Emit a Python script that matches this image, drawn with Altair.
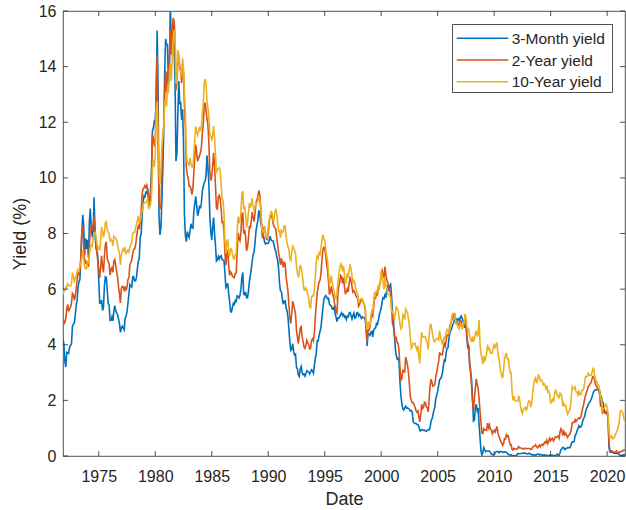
import altair as alt
import pandas as pd

# ---------------- data (monthly, Nov 1971 .. Aug 2021) ----------------
START_YEAR, START_MONTH = 1971, 11

yield_3m = [
    4.22, 4.01,
    3.38, 3.20, 3.73, 3.71, 3.69, 3.91, 3.98, 4.02, 4.66, 4.74, 4.78, 5.07,
    5.41, 5.60, 6.09, 6.26, 6.36, 7.19, 8.01, 8.67, 8.29, 7.22, 7.83, 7.45,
    7.77, 7.12, 8.40, 8.90, 8.23, 7.90, 7.85, 9.30, 8.06, 7.46, 7.47, 7.15,
    6.26, 5.50, 5.49, 5.61, 5.23, 5.34, 6.13, 6.44, 6.42, 5.96, 5.48, 5.44,
    4.87, 4.88, 5.00, 4.86, 5.20, 5.41, 5.23, 5.14, 5.08, 4.92, 4.75, 4.45,
    4.62, 4.67, 4.60, 4.54, 4.96, 5.02, 5.19, 5.49, 5.81, 6.16, 6.10, 6.07,
    6.44, 6.45, 6.29, 6.29, 6.41, 6.73, 7.01, 7.08, 7.85, 7.99, 8.64, 9.08,
    9.35, 9.32, 9.48, 9.46, 9.61, 9.06, 9.24, 9.52, 10.26, 11.70, 11.79, 12.04,
    12.00, 12.86, 15.30, 13.20, 8.60, 7.95, 8.20, 9.13, 10.27, 11.62, 13.73, 15.00,
    14.80, 14.79, 13.36, 13.69, 16.30, 14.73, 14.95, 15.51, 14.70, 13.54, 10.60, 10.85,
    12.28, 13.48, 12.68, 12.70, 12.09, 12.47, 11.35, 8.68, 7.92, 7.71, 8.07, 7.94,
    7.86, 8.11, 8.35, 8.21, 8.19, 8.79, 9.08, 9.34, 9.00, 8.64, 8.76, 9.00,
    8.90, 9.09, 9.52, 9.69, 9.83, 9.87, 10.12, 10.80, 10.37, 9.74, 8.61, 8.06,
    7.76, 8.22, 8.57, 8.00, 7.56, 7.01, 7.05, 7.18, 7.08, 7.17, 7.20, 7.07,
    7.04, 7.03, 6.59, 6.06, 6.12, 6.21, 5.84, 5.57, 5.19, 5.18, 5.35, 5.49,
    5.45, 5.59, 5.56, 5.76, 5.75, 5.69, 5.78, 6.00, 6.40, 6.60, 5.81, 5.80,
    5.90, 5.69, 5.69, 5.92, 6.27, 6.50, 6.73, 7.02, 7.23, 7.34, 7.68, 8.09,
    8.29, 8.48, 8.83, 8.70, 8.40, 8.22, 7.92, 7.91, 7.72, 7.63, 7.65, 7.64,
    7.64, 7.74, 7.90, 7.77, 7.74, 7.73, 7.62, 7.45, 7.36, 7.17, 7.06, 6.74,
    6.22, 5.94, 5.91, 5.65, 5.46, 5.57, 5.58, 5.33, 5.22, 4.99, 4.56, 4.07,
    3.80, 3.84, 4.04, 3.75, 3.63, 3.66, 3.21, 3.13, 2.91, 2.86, 3.13, 3.22,
    3.00, 2.93, 2.95, 2.87, 2.96, 3.07, 3.04, 3.02, 2.95, 3.02, 3.10, 3.06,
    2.98, 3.25, 3.50, 3.68, 4.14, 4.14, 4.33, 4.48, 4.62, 4.95, 5.29, 5.60,
    5.71, 5.77, 5.73, 5.65, 5.67, 5.47, 5.42, 5.40, 5.28, 5.28, 5.36, 5.14,
    5.00, 4.83, 4.96, 4.95, 5.02, 5.09, 5.15, 5.05, 5.09, 4.99, 5.03, 4.91,
    5.03, 5.01, 5.14, 5.16, 5.05, 4.93, 5.05, 5.14, 4.95, 4.97, 5.14, 5.16,
    5.04, 5.09, 5.03, 4.95, 5.00, 4.98, 4.96, 4.90, 4.61, 3.96, 4.41, 4.39,
    4.34, 4.45, 4.48, 4.28, 4.51, 4.59, 4.60, 4.76, 4.73, 4.88, 5.07, 5.20,
    5.32, 5.55, 5.69, 5.66, 5.79, 5.69, 5.96, 6.09, 6.00, 6.11, 6.17, 5.77,
    5.15, 4.88, 4.42, 3.87, 3.62, 3.49, 3.51, 3.36, 2.64, 2.16, 1.87, 1.69,
    1.65, 1.73, 1.79, 1.72, 1.73, 1.70, 1.68, 1.62, 1.63, 1.58, 1.23, 1.19,
    1.17, 1.17, 1.13, 1.13, 1.07, 0.92, 0.90, 0.95, 0.94, 0.92, 0.93, 0.90,
    0.88, 0.93, 0.94, 0.94, 1.02, 1.27, 1.33, 1.48, 1.65, 1.76, 2.07, 2.19,
    2.33, 2.54, 2.74, 2.78, 2.84, 2.97, 3.22, 3.44, 3.42, 3.71, 3.88, 3.89,
    4.24, 4.43, 4.51, 4.60, 4.72, 4.79, 4.95, 4.96, 4.81, 4.92, 4.94, 4.85,
    4.98, 5.03, 4.94, 4.87, 4.73, 4.61, 4.82, 4.20, 3.89, 3.90, 3.27, 3.00,
    2.75, 2.12, 1.26, 1.29, 1.73, 1.86, 1.63, 1.72, 1.13, 0.67, 0.19, 0.03,
    0.13, 0.30, 0.22, 0.16, 0.18, 0.18, 0.18, 0.17, 0.12, 0.07, 0.05, 0.05,
    0.06, 0.11, 0.15, 0.16, 0.16, 0.12, 0.16, 0.16, 0.15, 0.13, 0.14, 0.14,
    0.15, 0.13, 0.10, 0.06, 0.04, 0.04, 0.04, 0.02, 0.01, 0.02, 0.01, 0.01,
    0.03, 0.09, 0.08, 0.08, 0.09, 0.09, 0.10, 0.10, 0.11, 0.10, 0.09, 0.07,
    0.07, 0.10, 0.09, 0.06, 0.04, 0.05, 0.04, 0.04, 0.02, 0.05, 0.07, 0.07,
    0.04, 0.05, 0.05, 0.03, 0.03, 0.04, 0.03, 0.03, 0.02, 0.02, 0.02, 0.03,
    0.03, 0.02, 0.03, 0.02, 0.02, 0.02, 0.03, 0.07, 0.02, 0.02, 0.12, 0.23,
    0.26, 0.31, 0.29, 0.23, 0.27, 0.27, 0.30, 0.30, 0.29, 0.33, 0.45, 0.51,
    0.51, 0.52, 0.74, 0.79, 0.90, 0.99, 1.09, 1.03, 1.05, 1.09, 1.25, 1.34,
    1.41, 1.57, 1.70, 1.76, 1.86, 1.90, 1.96, 2.03, 2.13, 2.25, 2.33, 2.37,
    2.37, 2.39, 2.40, 2.38, 2.35, 2.17, 2.10, 1.95, 1.89, 1.65, 1.54, 1.54,
    1.52, 1.52, 0.29, 0.14, 0.13, 0.16, 0.13, 0.10, 0.11, 0.10, 0.09, 0.09,
    0.08, 0.04, 0.03, 0.02, 0.02, 0.04, 0.05, 0.05,
]

yield_2y = [
    5.00, 4.75,
    4.80, 4.95, 5.30, 5.45, 5.20, 5.30, 5.35, 5.50, 5.85, 5.80, 5.60, 5.75,
    6.00, 6.30, 6.60, 6.50, 6.70, 7.10, 8.10, 8.30, 7.60, 6.90, 7.00, 6.90,
    7.00, 6.80, 7.50, 8.20, 8.20, 8.10, 8.30, 8.60, 8.30, 7.60, 7.30, 7.00,
    6.70, 6.40, 6.80, 7.20, 6.80, 6.60, 7.20, 7.60, 7.70, 7.10, 7.00, 6.90,
    6.50, 6.70, 6.80, 6.60, 7.00, 7.06, 6.85, 6.63, 6.42, 6.07, 5.84, 5.50,
    6.03, 6.10, 6.08, 5.97, 6.10, 5.95, 6.07, 6.34, 6.42, 6.88, 6.95, 7.04,
    7.27, 7.43, 7.44, 7.55, 7.82, 8.10, 8.26, 8.16, 8.43, 8.81, 9.40, 9.60,
    9.64, 9.72, 9.65, 9.74, 9.59, 8.99, 9.03, 9.22, 9.94, 11.50, 11.46, 11.17,
    11.12, 13.38, 14.40, 11.42, 9.07, 8.95, 8.88, 10.21, 11.37, 11.90, 13.00, 13.85,
    13.07, 13.81, 13.71, 14.25, 15.35, 14.43, 15.18, 15.75, 15.65, 15.10, 13.14, 13.53,
    14.10, 14.40, 14.00, 13.90, 13.40, 14.10, 13.80, 12.60, 11.80, 10.40, 10.10, 10.00,
    9.70, 9.70, 9.60, 9.40, 9.60, 10.20, 10.80, 11.20, 10.90, 10.60, 10.70, 10.80,
    10.90, 11.10, 11.60, 11.90, 12.60, 12.70, 12.40, 12.10, 11.90, 11.20, 10.20, 9.90,
    10.05, 10.45, 10.90, 10.40, 9.70, 8.91, 8.88, 9.31, 9.37, 9.25, 8.88, 8.40,
    8.41, 8.10, 7.30, 6.86, 7.27, 7.41, 6.86, 6.49, 6.62, 6.56, 6.46, 6.43,
    6.41, 6.56, 6.58, 7.32, 8.02, 7.82, 7.74, 8.03, 8.67, 8.75, 7.99, 8.13,
    7.87, 7.38, 7.50, 7.83, 8.24, 8.22, 8.44, 8.77, 8.57, 8.43, 8.72, 9.11,
    9.20, 9.32, 9.55, 9.40, 8.98, 8.37, 7.83, 8.13, 8.26, 8.02, 7.80, 7.78,
    8.02, 8.39, 8.63, 8.60, 8.69, 8.40, 8.26, 8.22, 8.16, 7.88, 7.60, 7.31,
    7.13, 6.87, 7.10, 6.95, 6.78, 6.96, 6.92, 6.43, 6.18, 5.91, 5.42, 4.94,
    4.77, 5.14, 5.57, 5.42, 5.27, 5.10, 4.52, 4.28, 4.04, 4.32, 4.61, 4.65,
    4.30, 4.12, 3.92, 3.87, 3.97, 4.16, 4.07, 4.00, 3.85, 3.87, 4.16, 4.21,
    4.14, 4.40, 4.96, 5.41, 5.86, 6.06, 6.27, 6.31, 6.55, 6.99, 7.39, 7.50,
    7.50, 7.25, 6.89, 6.68, 6.27, 5.80, 5.89, 6.10, 5.89, 5.77, 5.57, 5.39,
    5.20, 5.14, 5.79, 6.11, 6.27, 6.49, 6.45, 6.21, 6.41, 6.08, 5.82, 5.91,
    6.01, 5.90, 6.22, 6.45, 6.28, 6.09, 5.89, 5.94, 5.88, 5.77, 5.71, 5.72,
    5.38, 5.43, 5.57, 5.58, 5.58, 5.52, 5.46, 5.27, 4.67, 4.09, 4.53, 4.52,
    4.61, 4.90, 5.11, 5.03, 5.33, 5.70, 5.68, 5.84, 5.80, 6.10, 6.13, 6.19,
    6.58, 6.68, 6.53, 6.40, 6.81, 6.48, 6.34, 6.23, 6.08, 5.91, 5.88, 5.35,
    4.76, 4.66, 4.34, 4.23, 4.26, 4.08, 4.04, 3.76, 3.12, 2.73, 2.78, 3.11,
    3.03, 3.02, 3.56, 3.42, 3.26, 2.99, 2.56, 2.13, 2.00, 1.91, 1.92, 1.84,
    1.74, 1.63, 1.57, 1.62, 1.42, 1.23, 1.47, 1.86, 1.71, 1.75, 1.93, 1.91,
    1.76, 1.74, 1.58, 2.07, 2.53, 2.76, 2.64, 2.51, 2.53, 2.58, 2.85, 3.01,
    3.22, 3.38, 3.73, 3.65, 3.64, 3.64, 3.87, 4.04, 3.95, 4.17, 4.33, 4.35,
    4.45, 4.68, 4.77, 4.90, 4.97, 5.12, 5.12, 4.90, 4.77, 4.80, 4.74, 4.67,
    4.88, 4.85, 4.57, 4.67, 4.77, 4.96, 4.82, 4.34, 4.06, 3.97, 3.34, 3.12,
    2.48, 1.97, 1.62, 2.05, 2.45, 2.77, 2.57, 2.42, 2.08, 1.61, 1.21, 0.82,
    0.81, 0.98, 0.93, 0.93, 0.92, 1.18, 1.02, 1.12, 0.96, 0.95, 0.80, 0.87,
    0.93, 0.86, 0.96, 1.06, 0.83, 0.72, 0.62, 0.52, 0.47, 0.38, 0.45, 0.62,
    0.61, 0.77, 0.70, 0.73, 0.56, 0.41, 0.41, 0.23, 0.21, 0.28, 0.25, 0.26,
    0.24, 0.28, 0.34, 0.29, 0.29, 0.29, 0.25, 0.27, 0.26, 0.28, 0.27, 0.26,
    0.27, 0.27, 0.26, 0.23, 0.25, 0.33, 0.34, 0.36, 0.40, 0.34, 0.30, 0.34,
    0.39, 0.33, 0.40, 0.42, 0.39, 0.45, 0.51, 0.47, 0.57, 0.45, 0.53, 0.64,
    0.55, 0.62, 0.64, 0.54, 0.61, 0.69, 0.67, 0.70, 0.71, 0.64, 0.88, 0.98,
    0.90, 0.73, 0.88, 0.77, 0.82, 0.73, 0.67, 0.74, 0.77, 0.84, 0.98, 1.20,
    1.21, 1.20, 1.31, 1.24, 1.30, 1.34, 1.37, 1.34, 1.38, 1.57, 1.70, 1.84,
    2.03, 2.18, 2.28, 2.38, 2.51, 2.53, 2.61, 2.64, 2.77, 2.86, 2.86, 2.68,
    2.54, 2.50, 2.41, 2.34, 2.21, 1.81, 1.84, 1.57, 1.65, 1.56, 1.61, 1.61,
    1.52, 1.33, 0.45, 0.23, 0.17, 0.19, 0.15, 0.14, 0.13, 0.14, 0.18, 0.13,
    0.13, 0.12, 0.15, 0.16, 0.16, 0.20, 0.22, 0.22,
]

yield_10y = [
    5.81, 5.93,
    5.95, 6.08, 6.07, 6.19, 6.13, 6.11, 6.11, 6.21, 6.55, 6.48, 6.28, 6.36,
    6.46, 6.64, 6.71, 6.67, 6.85, 6.90, 7.13, 7.40, 7.09, 6.79, 6.73, 6.74,
    6.99, 6.96, 7.21, 7.51, 7.58, 7.54, 7.81, 8.04, 8.04, 7.90, 7.68, 7.43,
    7.50, 7.39, 7.73, 8.23, 8.06, 7.86, 8.06, 8.40, 8.43, 8.14, 8.05, 8.00,
    7.74, 7.79, 7.73, 7.56, 7.90, 7.86, 7.83, 7.77, 7.59, 7.41, 7.29, 6.87,
    7.21, 7.39, 7.46, 7.37, 7.46, 7.28, 7.33, 7.40, 7.34, 7.52, 7.58, 7.69,
    8.01, 8.03, 8.04, 8.15, 8.35, 8.46, 8.64, 8.41, 8.42, 8.64, 8.81, 9.01,
    9.10, 9.10, 9.12, 9.18, 9.25, 8.91, 8.95, 9.03, 9.33, 10.30, 10.65, 10.39,
    10.80, 12.41, 12.75, 11.47, 10.18, 9.78, 10.25, 11.10, 11.51, 11.75, 12.68, 12.84,
    12.57, 13.19, 13.12, 13.68, 14.10, 13.47, 14.28, 14.94, 15.32, 15.15, 13.39, 13.72,
    14.59, 14.43, 13.86, 13.87, 13.62, 14.30, 13.95, 13.06, 12.34, 10.91, 10.55, 10.54,
    10.46, 10.72, 10.51, 10.40, 10.38, 10.85, 11.38, 11.85, 11.65, 11.54, 11.69, 11.83,
    11.67, 11.84, 12.32, 12.63, 13.41, 13.56, 13.36, 12.72, 12.52, 12.16, 11.57, 11.50,
    11.38, 11.51, 11.86, 11.43, 10.85, 10.16, 10.31, 10.33, 10.37, 10.24, 9.78, 9.26,
    9.19, 8.70, 7.78, 7.30, 7.71, 7.80, 7.30, 7.17, 7.45, 7.43, 7.25, 7.11,
    7.08, 7.25, 7.25, 8.02, 8.61, 8.40, 8.45, 8.76, 9.42, 9.52, 8.86, 8.99,
    8.67, 8.21, 8.37, 8.72, 9.09, 8.92, 9.06, 9.26, 8.98, 8.80, 8.96, 9.11,
    9.09, 9.17, 9.36, 9.18, 8.86, 8.28, 8.02, 8.11, 8.19, 8.01, 7.87, 7.84,
    8.21, 8.47, 8.59, 8.79, 8.76, 8.48, 8.47, 8.75, 8.89, 8.72, 8.39, 8.08,
    8.09, 7.85, 8.11, 8.04, 8.07, 8.28, 8.27, 7.90, 7.65, 7.53, 7.42, 7.09,
    7.03, 7.34, 7.54, 7.48, 7.39, 7.26, 6.84, 6.59, 6.42, 6.59, 6.87, 6.77,
    6.60, 6.26, 5.98, 5.97, 6.04, 5.96, 5.81, 5.68, 5.36, 5.33, 5.72, 5.77,
    5.75, 5.97, 6.48, 6.97, 7.18, 7.10, 7.30, 7.24, 7.46, 7.74, 7.96, 7.81,
    7.78, 7.47, 7.20, 7.06, 6.63, 6.17, 6.28, 6.49, 6.20, 6.04, 5.93, 5.71,
    5.65, 5.81, 6.27, 6.51, 6.74, 6.91, 6.87, 6.64, 6.83, 6.53, 6.20, 6.30,
    6.58, 6.42, 6.69, 6.89, 6.71, 6.49, 6.22, 6.30, 6.21, 6.03, 5.88, 5.81,
    5.54, 5.57, 5.65, 5.64, 5.65, 5.50, 5.46, 5.34, 4.81, 4.53, 4.83, 4.65,
    4.72, 5.00, 5.23, 5.18, 5.54, 5.90, 5.79, 5.94, 5.92, 6.11, 6.03, 6.28,
    6.66, 6.52, 6.26, 5.99, 6.44, 6.10, 6.05, 5.83, 5.80, 5.74, 5.72, 5.24,
    5.16, 5.10, 4.89, 5.14, 5.39, 5.28, 5.24, 4.97, 4.73, 4.57, 4.65, 5.09,
    5.04, 4.91, 5.28, 5.21, 5.16, 4.93, 4.65, 4.26, 3.87, 3.94, 4.05, 4.03,
    4.05, 3.90, 3.81, 3.96, 3.57, 3.33, 3.98, 4.45, 4.27, 4.29, 4.30, 4.27,
    4.15, 4.08, 3.83, 4.35, 4.72, 4.73, 4.50, 4.28, 4.13, 4.10, 4.19, 4.23,
    4.22, 4.17, 4.50, 4.34, 4.14, 4.00, 4.18, 4.26, 4.20, 4.46, 4.54, 4.47,
    4.42, 4.57, 4.72, 4.99, 5.11, 5.11, 5.09, 4.88, 4.72, 4.73, 4.60, 4.56,
    4.76, 4.72, 4.56, 4.69, 4.75, 5.10, 5.00, 4.67, 4.52, 4.55, 4.30, 4.20,
    4.10, 4.30, 4.10, 4.20, 4.40, 4.50, 4.30, 4.40, 4.90, 4.00, 3.70, 3.50,
    3.30, 3.60, 3.40, 3.50, 3.70, 4.00, 3.80, 3.90, 3.70, 3.70, 3.70, 3.90,
    4.00, 3.90, 4.00, 4.05, 3.70, 3.50, 3.30, 3.00, 2.90, 2.80, 3.10, 3.50,
    3.60, 3.70, 3.50, 3.50, 3.20, 3.00, 3.00, 2.30, 2.00, 2.15, 2.00, 1.98,
    1.97, 1.97, 2.17, 2.05, 1.80, 1.62, 1.53, 1.68, 1.72, 1.75, 1.65, 1.72,
    1.91, 1.98, 1.96, 1.76, 1.93, 2.30, 2.58, 2.74, 2.81, 2.62, 2.72, 2.90,
    2.86, 2.71, 2.72, 2.71, 2.56, 2.60, 2.54, 2.42, 2.53, 2.30, 2.33, 2.21,
    1.88, 1.98, 2.04, 1.94, 2.20, 2.36, 2.32, 2.17, 2.17, 2.07, 2.26, 2.24,
    2.09, 1.78, 1.89, 1.81, 1.81, 1.64, 1.50, 1.56, 1.63, 1.76, 2.14, 2.49,
    2.43, 2.42, 2.48, 2.30, 2.30, 2.19, 2.32, 2.21, 2.20, 2.36, 2.35, 2.40,
    2.58, 2.86, 2.84, 2.87, 2.98, 2.91, 2.89, 2.89, 3.00, 3.15, 3.12, 2.83,
    2.71, 2.68, 2.57, 2.53, 2.40, 2.07, 2.06, 1.63, 1.70, 1.71, 1.81, 1.86,
    1.76, 1.50, 0.87, 0.66, 0.67, 0.73, 0.62, 0.65, 0.68, 0.79, 0.87, 0.93,
    1.08, 1.26, 1.61, 1.64, 1.62, 1.52, 1.32, 1.28,
]

series_names = ["3-Month yield", "2-Year yield", "10-Year yield"]
series_colors = ["#0072BD", "#D95319", "#EDB120"]
x_tick_values = [1975, 1980, 1985, 1990, 1995, 2000, 2005, 2010, 2015, 2020]
y_tick_values = [0, 2, 4, 6, 8, 10, 12, 14, 16]

# ---------------- build table ----------------
n = len(yield_3m)
dates = [START_YEAR + (START_MONTH - 1 + i) / 12.0 for i in range(n)]
rows = []
for name, vals in zip(series_names, [yield_3m, yield_2y, yield_10y]):
    for d, v in zip(dates, vals):
        rows.append({"date": d, "value": v, "series": name})
df = pd.DataFrame(rows)

W, H = 562, 445
FONT = "Liberation Sans"
INK = "#262626"

xs = alt.Scale(domain=[dates[0], dates[-1]], nice=False, zero=False)
ys = alt.Scale(domain=[0, 16], nice=False)

x_axis = alt.Axis(values=x_tick_values, format="d", title="Date",
                  labelPadding=12, titlePadding=6)
y_axis = alt.Axis(values=y_tick_values, format="d", title="Yield (%)",
                  labelPadding=7, titlePadding=9)

lines = alt.Chart(df).mark_line(strokeWidth=1.6, clip=True).encode(
    x=alt.X("date:Q", scale=xs, axis=x_axis),
    y=alt.Y("value:Q", scale=ys, axis=y_axis),
    color=alt.Color("series:N",
                    scale=alt.Scale(domain=series_names, range=series_colors),
                    legend=None),
)

# inward tick marks (MATLAB style) on all four sides
xt = pd.DataFrame({"t": x_tick_values})
yt = pd.DataFrame({"v": y_tick_values})
TL = 5
tick_kw = dict(color=INK, strokeWidth=0.8)
x_bottom = alt.Chart(xt).mark_rule(**tick_kw).encode(
    x=alt.X("t:Q", scale=xs, axis=x_axis), y=alt.value(H), y2=alt.value(H - TL))
x_top = alt.Chart(xt).mark_rule(**tick_kw).encode(
    x=alt.X("t:Q", scale=xs, axis=x_axis), y=alt.value(0), y2=alt.value(TL))
y_left = alt.Chart(yt).mark_rule(**tick_kw).encode(
    y=alt.Y("v:Q", scale=ys, axis=y_axis), x=alt.value(0), x2=alt.value(TL))
y_right = alt.Chart(yt).mark_rule(**tick_kw).encode(
    y=alt.Y("v:Q", scale=ys, axis=y_axis), x=alt.value(W), x2=alt.value(W - TL))

# legend box (drawn manually, MATLAB style)
one = pd.DataFrame({"k": [0]})
LX0, LX1, LY0, LY1 = 389.5, 549.5, 13.5, 81.5
box = alt.Chart(one).mark_rect(fill="white", stroke=INK, strokeWidth=0.8).encode(
    x=alt.value(LX0), x2=alt.value(LX1), y=alt.value(LY0), y2=alt.value(LY1))
legend_layers = [box]
for i, (name, col) in enumerate(zip(series_names, series_colors)):
    yy = 27.3 + 21.7 * i
    legend_layers.append(
        alt.Chart(one).mark_rule(color=col, strokeWidth=1.6).encode(
            x=alt.value(393.7), x2=alt.value(445.3), y=alt.value(yy)))
    legend_layers.append(
        alt.Chart(one).mark_text(text=name, align="left", baseline="middle",
                                 font=FONT, fontSize=15.5, color=INK).encode(
            x=alt.value(448.7), y=alt.value(yy + 0.5)))

chart = alt.layer(lines, x_bottom, x_top, y_left, y_right, *legend_layers).properties(
    width=W, height=H,
    autosize=alt.AutoSizeParams(type="none"),
    padding={"left": 63, "top": 11, "right": 1, "bottom": 54},
    background="white",
).configure_view(stroke=INK, strokeWidth=0.8).configure_axis(
    domain=False, ticks=False, tickSize=0, grid=False,
    labelFont=FONT, labelFontSize=16, labelColor=INK,
    titleFont=FONT, titleFontSize=18, titleFontWeight="normal", titleColor=INK,
)

chart.save("out.html", embed_options={"renderer": "svg", "actions": False})
